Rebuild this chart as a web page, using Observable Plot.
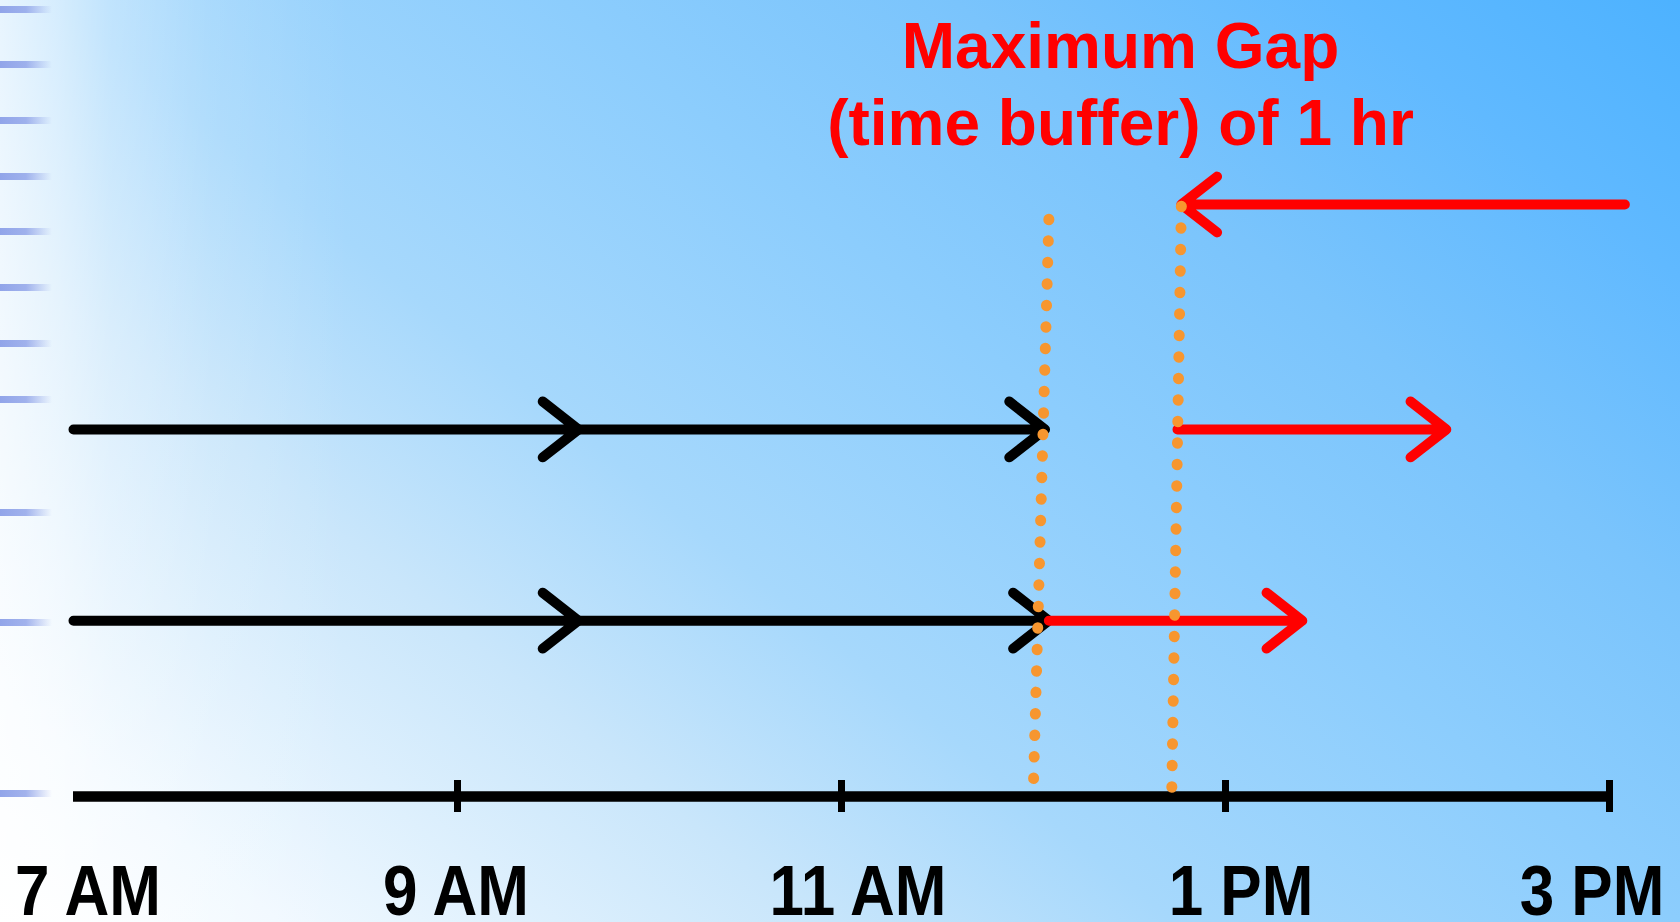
<!DOCTYPE html>
<html>
<head>
<meta charset="utf-8">
<script src="https://cdn.jsdelivr.net/npm/d3@7"></script>
<script src="https://cdn.jsdelivr.net/npm/@observablehq/plot@0.6"></script>
<style>
  html, body { margin: 0; padding: 0; width: 1680px; height: 922px; overflow: hidden; }
  body {
    position: relative;
    font-family: "Liberation Sans", Arial, sans-serif;
    background:
      linear-gradient(to right, rgba(255,255,255,0.72) 0px, rgba(255,255,255,0.52) 60px, rgba(255,255,255,0.32) 110px, rgba(255,255,255,0.12) 210px, rgba(255,255,255,0) 350px),
      linear-gradient(39.5deg, #ffffff 0%, #f1f9ff 10%, #c9e6fb 29%, #a6d8fc 42%, #8ccdfd 60%, #7ac4fc 74%, #60b9ff 88%, #4db2ff 100%);
  }
  #deco { position: absolute; left: 0; top: 0; width: 60px; height: 922px; }
  #deco div { position: absolute; left: 0; width: 52px; height: 7px;
    background: linear-gradient(to right, rgba(140,160,232,0.95) 0px, rgba(140,160,232,0.8) 26px, rgba(140,160,232,0) 52px); }
  #chart { position: absolute; left: 0; top: 0; }
  g.ticklabels { transform-box: fill-box; transform-origin: center; transform: scaleY(1.13); }
</style>
</head>
<body>
<div id="deco"></div>
<div id="chart"></div>
<script>
// Time axis (hours of the day) and labels
const tickHours = [7, 9, 11, 13, 15];
const tickLabels = ["7 AM", "9 AM", "11 AM", "1 PM", "3 PM"];

// Lanes (rows) of the diagram
const laneNames = ["axis", "trip B", "trip A", "return"];
const laneLevels = [0, 0.297, 0.62, 1];

// Trip segments (hours)
const segLane = ["return", "trip A", "trip A", "trip A", "trip B", "trip B", "trip B"];
const segFrom = [15.08, 7, 9.63, 12.75, 7, 9.63, 12.08];
const segTo   = [12.77, 9.63, 12.06, 14.15, 9.63, 12.08, 13.4];
const segKind = ["late", "on time", "on time", "late", "on time", "on time", "late"];

// Dotted gap markers (hours at top and bottom, lane level at top and bottom)
const gapTopHour = [12.08, 12.77];
const gapBottomHour = [12.0, 12.72];
const gapTopLevel = [0.975, 0.997];
const gapBottomLevel = [0.024, 0.008];

const titleText = "Maximum Gap\n(time buffer) of 1 hr";

// ---- layout / decoration (not data) ----
const decoY = [9, 64, 120, 176, 231, 287, 343, 399, 512, 622, 793];
const deco = document.getElementById("deco");
decoY.forEach(y => { const d = document.createElement("div"); d.style.top = (y - 3.5) + "px"; deco.appendChild(d); });
const labelShiftPx = [15, -1, 17, 16, -17];
const pxPerHour = (1609 - 73) / 8;

const level = name => laneLevels[laneNames.indexOf(name)];
const segments = segLane.map((l, i) => ({lane: l, from: segFrom[i], to: segTo[i], kind: segKind[i]}));
const gaps = gapTopHour.map((h, i) => ({x1: h, x2: gapBottomHour[i], y1: gapTopLevel[i], y2: gapBottomLevel[i]}));
const ticks = tickHours.map((h, i) => ({hour: h, label: tickLabels[i], shift: labelShiftPx[i] / pxPerHour}));

const plot = Plot.plot({
  width: 1680,
  height: 922,
  margin: 0,
  style: {background: "transparent", fontFamily: "'Liberation Sans', Arial, sans-serif", overflow: "visible"},
  x: {domain: [7, 15], range: [73, 1609], axis: null},
  y: {domain: [0, 1], range: [796, 204], axis: null},
  color: {domain: ["on time", "late"], range: ["#000000", "#ff0000"]},
  marks: [
    Plot.ruleY([0], {x1: tickHours[0], x2: tickHours[tickHours.length - 1], stroke: "#000", strokeWidth: 10.5}),
    Plot.ruleX(ticks.slice(1), {x: "hour", y1: 0, y2: 0, insetTop: -16, insetBottom: -16, stroke: "#000", strokeWidth: 7}),
    Plot.text(ticks, {x: d => d.hour + d.shift, y: -0.162, text: "label",
      fontSize: 62, fontWeight: "bold", fill: "#000", className: "ticklabels"}),
    Plot.arrow(segments, {
      x1: "from", x2: "to", y1: d => level(d.lane), y2: d => level(d.lane),
      stroke: "kind", strokeWidth: 10, headAngle: 76, headLength: 6.8, strokeLinecap: "round"
    }),
    Plot.link(gaps, {x1: "x1", x2: "x2", y1: "y1", y2: "y2", stroke: "#f7962f", strokeWidth: 11,
      strokeDasharray: "0.5 21", strokeLinecap: "round"}),
    Plot.text([titleText], {text: d => d, frameAnchor: "top", lineAnchor: "top", dx: 280, dy: 13,
      fontSize: 64, fontWeight: "bold", fill: "#ff0000", lineHeight: 1.2})
  ]
});
document.getElementById("chart").appendChild(plot);
</script>
</body>
</html>
